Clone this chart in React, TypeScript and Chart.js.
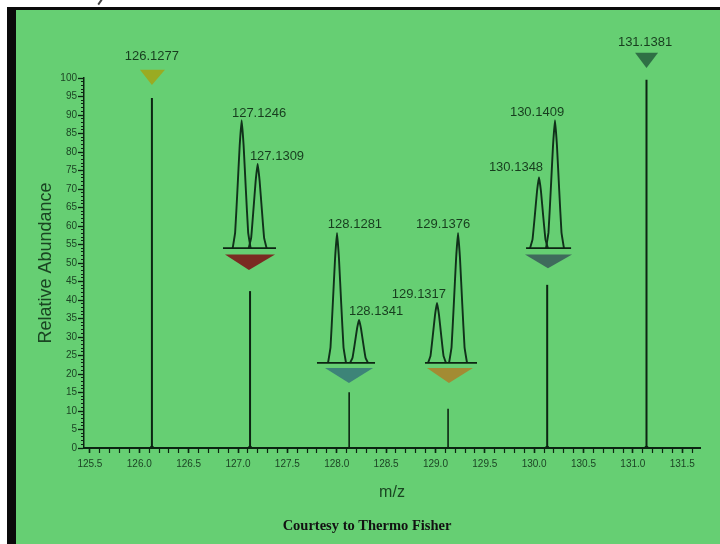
import React, { useEffect, useRef } from "react";
import { Chart, registerables } from "chart.js";

Chart.register(...registerables);

// ---------- axis tick labels ----------
const xTickLabels = ["125.5", "126.0", "126.5", "127.0", "127.5", "128.0", "128.5", "129.0", "129.5", "130.0", "130.5", "131.0", "131.5"];
const yTickLabels = ["0", "5", "10", "15", "20", "25", "30", "35", "40", "45", "50", "55", "60", "65", "70", "75", "80", "85", "90", "95", "100"];

// ---------- centroid sticks (m/z, relative abundance) ----------
const stickMz = [126.128, 127.122, 128.126, 129.128, 130.132, 131.138];
const stickAbundance = [94.6, 42.4, 15.1, 10.6, 44.1, 99.5];

// ---------- zoomed insets: profile peaks ([m/z, abundance] points) ----------
const peak127a = [[126.946, 54], [126.971, 58.2], [126.994, 69.6], [127.017, 81.7], [127.037, 88.6], [127.057, 81.7], [127.080, 69.6], [127.103, 58.2], [127.128, 54]];
const peak127b = [[127.108, 54], [127.133, 56.7], [127.156, 64.3], [127.179, 72.2], [127.199, 76.8], [127.219, 72.2], [127.242, 64.3], [127.265, 56.7], [127.290, 54]];
const peak128a = [[127.912, 23], [127.937, 27.2], [127.960, 38.8], [127.983, 51.1], [128.003, 58.1], [128.023, 51.1], [128.046, 38.8], [128.069, 27.2], [128.094, 23]];
const peak128b = [[128.135, 23], [128.160, 24.4], [128.183, 28.2], [128.206, 32.3], [128.226, 34.6], [128.246, 32.3], [128.269, 28.2], [128.292, 24.4], [128.317, 23]];
const peak129a = [[128.925, 23], [128.950, 24.9], [128.973, 30.3], [128.996, 36.0], [129.016, 39.2], [129.036, 36.0], [129.059, 30.3], [129.082, 24.9], [129.107, 23]];
const peak129b = [[129.138, 23], [129.163, 27.2], [129.186, 38.8], [129.209, 51.1], [129.229, 58.1], [129.249, 51.1], [129.272, 38.8], [129.295, 27.2], [129.320, 23]];
const peak130a = [[129.958, 54], [129.983, 56.3], [130.006, 62.6], [130.029, 69.4], [130.049, 73.2], [130.069, 69.4], [130.092, 62.6], [130.115, 56.3], [130.140, 54]];
const peak130b = [[130.120, 54], [130.145, 58.2], [130.168, 69.6], [130.191, 81.7], [130.211, 88.6], [130.231, 81.7], [130.254, 69.6], [130.277, 58.2], [130.302, 54]];
const insetPeaks = [peak127a, peak127b, peak128a, peak128b, peak129a, peak129b, peak130a, peak130b];

// inset baselines
const insetBaseLeft = [126.848, 127.800, 128.894, 129.918];
const insetBaseRight = [127.385, 128.388, 129.421, 130.374];
const insetBaseLevel = [54, 23, 23, 54];

// ---------- reporter-ion triangle markers ----------
const markerLeft = [126.007, 126.868, 127.881, 128.914, 129.907, 131.022];
const markerRight = [126.260, 127.375, 128.368, 129.380, 130.384, 131.255];
const markerTop = [102.2, 52.3, 21.6, 21.6, 52.3, 106.8];
const markerTipX = [126.128, 127.111, 128.124, 129.137, 130.140, 131.138];
const markerTipY = [98.1, 48.1, 17.6, 17.6, 48.6, 102.7];

// ---------- peak labels ----------
const peakLabels = ["126.1277", "127.1246", "127.1309", "128.1281", "128.1341", "129.1317", "129.1376", "130.1348", "130.1409", "131.1381"];
const peakLabelX = [126.128, 127.213, 127.395, 128.185, 128.398, 128.833, 129.078, 129.816, 130.029, 131.123];
const peakLabelY = [105.7, 90.5, 78.9, 60.3, 36.8, 41.4, 60.3, 75.9, 90.8, 109.7];

// ---------- styles ----------
const markerColors = ["#9aab22", "#7a2b22", "#3d8478", "#a38b33", "#3f6b5c", "#2f7045"];
const inkColor = "#0c2412";
const tickTextColor = "#1c4424";
const labelColor = "#173d1e";
const titleColor = "#1a4522";
const SANS = '"Liberation Sans", Arial, sans-serif';

const overlayPlugin = {
  id: "overlay",
  afterDatasetsDraw(chart: any) {
    const { ctx, scales } = chart;
    const x = scales.x;
    const y = scales.y;
    ctx.save();
    markerLeft.forEach((l, i) => {
      ctx.beginPath();
      ctx.moveTo(x.getPixelForValue(l), y.getPixelForValue(markerTop[i]));
      ctx.lineTo(x.getPixelForValue(markerRight[i]), y.getPixelForValue(markerTop[i]));
      ctx.lineTo(x.getPixelForValue(markerTipX[i]), y.getPixelForValue(markerTipY[i]));
      ctx.closePath();
      ctx.fillStyle = markerColors[i];
      ctx.fill();
    });
    ctx.font = `13px ${SANS}`;
    ctx.fillStyle = labelColor;
    ctx.textAlign = "center";
    ctx.textBaseline = "middle";
    peakLabels.forEach((t, i) => {
      ctx.fillText(t, x.getPixelForValue(peakLabelX[i]), y.getPixelForValue(peakLabelY[i]));
    });
    ctx.restore();
  },
};

const isXMajor = (v: number) => Math.abs(v * 2 - Math.round(v * 2)) < 1e-6;
const isYMajor = (v: number) => Math.round(v) % 5 === 0;

export default function App() {
  const ref = useRef<HTMLCanvasElement | null>(null);

  useEffect(() => {
    if (!ref.current) return;
    const datasets: any[] = [];

    stickMz.forEach((m, i) => {
      datasets.push({
        data: [{ x: m, y: 0 }, { x: m, y: stickAbundance[i] }],
        borderColor: inkColor,
        backgroundColor: inkColor,
        borderWidth: stickAbundance[i] > 30 ? 2 : 1.6,
        pointRadius: [stickAbundance[i] > 30 ? 2.2 : 1.2, 0],
        pointBorderWidth: 0,
      });
    });

    insetBaseLeft.forEach((l, i) => {
      datasets.push({
        data: [{ x: l, y: insetBaseLevel[i] }, { x: insetBaseRight[i], y: insetBaseLevel[i] }],
        borderColor: inkColor,
        borderWidth: 1.8,
        pointRadius: 0,
      });
    });

    insetPeaks.forEach((pk) => {
      datasets.push({
        data: pk.map(([px, py]) => ({ x: px, y: py })),
        borderColor: "#10301a",
        borderWidth: 1.9,
        pointRadius: 0,
        tension: 0.1,
      });
    });

    const tickFont = { family: SANS, size: 10 };

    const chart = new Chart(ref.current, {
      type: "line",
      data: { datasets },
      plugins: [overlayPlugin],
      options: {
        animation: false,
        responsive: false,
        layout: { padding: { left: 34, right: 20, top: 78, bottom: 0 } },
        plugins: {
          legend: { display: false },
          tooltip: { enabled: false },
          title: {
            display: true,
            position: "bottom",
            text: "Courtesy to Thermo Fisher",
            color: "#121212",
            font: { family: '"Liberation Serif", "Times New Roman", serif', size: 14.5, weight: "bold" },
            padding: { top: 15.2, bottom: 8.8 },
          },
        },
        scales: {
          x: {
            type: "linear",
            min: 125.44,
            max: 131.68,
            afterBuildTicks: (s: any) => {
              const t: any[] = [];
              for (let k = 0; k <= 62; k++) {
                const v = Math.round((125.5 + k * 0.1) * 10) / 10;
                if (v <= 131.68) t.push({ value: v });
              }
              s.ticks = t;
            },
            afterFit: (s: any) => {
              s.height = 54.6;
            },
            ticks: {
              autoSkip: false,
              maxRotation: 0,
              padding: 5,
              color: tickTextColor,
              font: tickFont,
              callback: (v: any) => {
                const lbl = Number(v).toFixed(1);
                return isXMajor(Number(v)) && xTickLabels.includes(lbl) ? lbl : "";
              },
            },
            grid: {
              drawOnChartArea: false,
              drawTicks: true,
              tickLength: 5,
              tickColor: inkColor,
              tickWidth: (c: any) => (c.tick && isXMajor(c.tick.value) ? 1.6 : 1.2),
            },
            border: { display: true, color: inkColor, width: 2 },
            title: {
              display: true,
              text: "m/z",
              color: titleColor,
              font: { family: SANS, size: 16 },
              padding: 0,
            },
          },
          y: {
            type: "linear",
            min: 0,
            max: 100,
            afterBuildTicks: (s: any) => {
              const t: any[] = [];
              for (let v = 0; v <= 100; v++) t.push({ value: v });
              s.ticks = t;
            },
            afterFit: (s: any) => {
              s.width = 50;
            },
            ticks: {
              autoSkip: false,
              padding: 1,
              color: tickTextColor,
              font: tickFont,
              callback: (v: any) => {
                const lbl = String(Math.round(Number(v)));
                return isYMajor(Number(v)) && yTickLabels.includes(lbl) ? lbl : "";
              },
            },
            grid: {
              drawOnChartArea: false,
              drawTicks: true,
              tickLength: 6,
              tickColor: inkColor,
              tickWidth: (c: any) => (c.tick && isYMajor(c.tick.value) ? 1.3 : 1),
              tickBorderDash: (c: any) => (c.tick && isYMajor(c.tick.value) ? [] : [0, 3, 3, 50]),
            },
            border: { display: true, color: inkColor, width: 1.5 },
            title: {
              display: true,
              text: "Relative Abundance",
              color: titleColor,
              font: { family: SANS, size: 18 },
              padding: { top: 1.2, bottom: 0 },
            },
          },
        },
      } as any,
    });
    return () => chart.destroy();
  }, []);

  return (
    <div style={{ position: "absolute", left: 0, top: 0, width: 720, height: 544, background: "#ffffff", overflow: "hidden" }}>
      <div style={{ position: "absolute", left: 7, top: 7, width: 713, height: 537, background: "#0a0a0a" }} />
      <div style={{ position: "absolute", left: 16, top: 10, width: 704, height: 534, background: "#66cf73" }} />
      <div style={{ position: "absolute", left: 99, top: -1, width: 1.5, height: 6, background: "#444", transform: "rotate(35deg)" }} />
      <canvas ref={ref} width={720} height={544} style={{ position: "absolute", left: 0, top: 0, width: 720, height: 544 }} />
    </div>
  );
}
